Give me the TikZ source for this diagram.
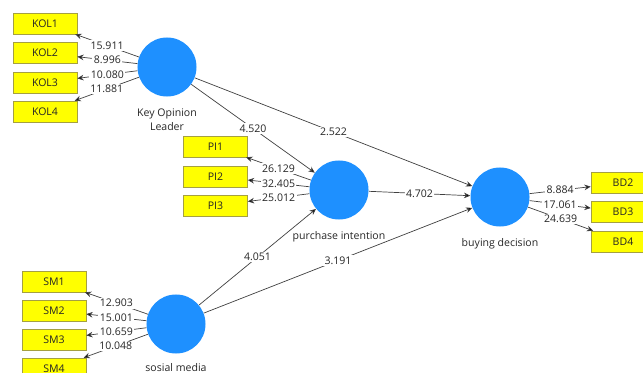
\documentclass[tikz,border=0pt]{standalone}
\usepackage{fontspec}
\setmainfont{Open Sans}
\usetikzlibrary{arrows.meta}
\definecolor{plsblue}{RGB}{30,144,255}
\definecolor{plsyellow}{RGB}{255,255,0}

\begin{document}
\begin{tikzpicture}[x=0.025cm, y=-0.025cm, font=\fontsize{7.5}{10}\selectfont]
    % Define styles
    \tikzstyle{construct} = [circle, fill=plsblue, minimum size=1.475cm, inner sep=0pt]
    \tikzstyle{caption} = [align=center, label distance=6pt, inner sep=2pt, text=black!85]
    \tikzstyle{indicator} = [rectangle, draw=yellow!60!black, fill=plsyellow, minimum width=1.6cm, minimum height=0.525cm, text=black!85]
    \tikzstyle{arrow} = [-{Stealth[length=4.5pt,width=4pt,fill=black]}, black!75, line width=0.5pt]
    \tikzstyle{weight} = [fill=white, inner sep=1pt, text=black!85, pos=0.5]

    \useasboundingbox (0,0) rectangle (643,373);

    % Constructs
    \node (kol) [construct, label={[caption]below:{Key Opinion\\Leader}}] at (167,67) {};
    \node (pi) [construct, label={[caption]below:purchase intention}] at (339,190) {};
    \node (bd) [construct, label={[caption]below:buying decision}] at (500,197) {};
    \node (sm) [construct, label={[caption, label distance=4.5pt]below:sosial media}] at (176,324) {};

    % Indicators
    \node (kol1) [indicator] at (45,23.5) {KOL1};
    \node (kol2) [indicator] at (45,53) {KOL2};
    \node (kol3) [indicator] at (45,82.5) {KOL3};
    \node (kol4) [indicator] at (45,111.5) {KOL4};
    \node (pi1) [indicator] at (215.5,146.5) {PI1};
    \node (pi2) [indicator] at (215.5,176.5) {PI2};
    \node (pi3) [indicator] at (215.5,205.5) {PI3};
    \node (bd2) [indicator] at (623,183) {BD2};
    \node (bd3) [indicator] at (623,212) {BD3};
    \node (bd4) [indicator] at (623,241.5) {BD4};
    \node (sm1) [indicator] at (54,281.5) {SM1};
    \node (sm2) [indicator] at (54,310.5) {SM2};
    \node (sm3) [indicator] at (54,339.5) {SM3};
    \node (sm4) [indicator] at (54,368.5) {SM4};

    % Outer loadings
    \draw [arrow] (kol) -- node[weight] {15.911} (kol1);
    \draw [arrow] (kol) -- node[weight] {8.996} (kol2);
    \draw [arrow] (kol) -- node[weight] {10.080} (kol3);
    \draw [arrow] (kol) -- node[weight] {11.881} (kol4);
    \draw [arrow] (pi) -- node[weight] {26.129} (pi1);
    \draw [arrow] (pi) -- node[weight] {32.405} (pi2);
    \draw [arrow] (pi) -- node[weight] {25.012} (pi3);
    \draw [arrow] (bd) -- node[weight] {8.884} (bd2);
    \draw [arrow] (bd) -- node[weight] {17.061} (bd3);
    \draw [arrow] (bd) -- node[weight] {24.639} (bd4);
    \draw [arrow] (sm) -- node[weight] {12.903} (sm1);
    \draw [arrow] (sm) -- node[weight] {15.001} (sm2);
    \draw [arrow] (sm) -- node[weight] {10.659} (sm3);
    \draw [arrow] (sm) -- node[weight] {10.048} (sm4);

    % Inner paths
    \draw [arrow] (kol) -- node[weight] {4.520} (pi);
    \draw [arrow] (kol) -- node[weight] {2.522} (bd);
    \draw [arrow] (pi) -- node[weight] {4.702} (bd);
    \draw [arrow] (sm) -- node[weight] {4.051} (pi);
    \draw [arrow] (sm) -- node[weight] {3.191} (bd);
\end{tikzpicture}
\end{document}
